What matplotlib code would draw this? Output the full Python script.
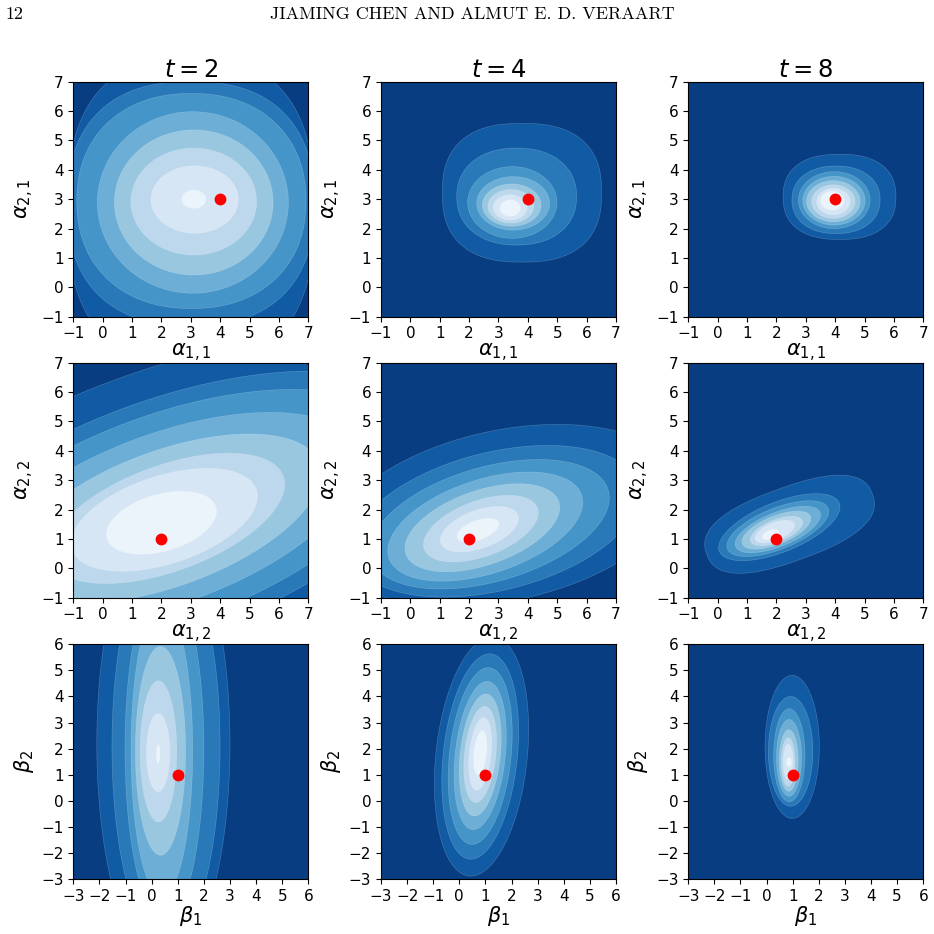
import numpy as np
import matplotlib
matplotlib.use("Agg")
import matplotlib.pyplot as plt
from matplotlib.patches import Polygon

# column titles and axis labels
col_titles = ["$t=2$", "$t=4$", "$t=8$"]
x_labels = [r"$\alpha_{1,1}$", r"$\alpha_{1,2}$", r"$\beta_1$"]
y_labels = [r"$\alpha_{2,1}$", r"$\alpha_{2,2}$", r"$\beta_2$"]
row_limits = [(-1, 7), (-1, 7), (-3, 6)]

# true parameter values (red dots), one per row
true_x = [4, 2, 1]
true_y = [3, 1, 1]

# contour bands: boundaries b0 (outer) .. b7 (inner)
# each as (cx, cy, a, b, p, angle) -- p is the super-ellipse exponent
rings_r1_t2 = [(3.0, 2.6, 4.2, 5.2, 2.6, 0), (3.0, 2.85, 4.2, 4.15, 2.4, 0),
               (3.02, 2.94, 3.9, 3.66, 2.2, 0), (3.07, 2.89, 3.25, 3.09, 2, 0),
               (3.1, 2.89, 2.7, 2.47, 2, 0), (3.1, 2.92, 2.14, 1.82, 2, 0),
               (3.13, 2.99, 1.49, 1.15, 2, 0), (3.1, 3.0, 0.41, 0.31, 2, 0)]
rings_r1_t4 = [(3.8, 3.22, 2.71, 2.36, 2.5, 0), (3.62, 3.09, 2.04, 1.65, 2.2, 0),
               (3.47, 2.89, 1.52, 1.22, 2, 0), (3.5, 2.86, 1.24, 0.91, 2, 0),
               (3.45, 2.8, 1.0, 0.72, 2, 0), (3.42, 2.76, 0.78, 0.57, 2, 0),
               (3.4, 2.72, 0.58, 0.43, 2, 0), (3.4, 2.7, 0.35, 0.28, 2, 0)]
rings_r1_t8 = [(4.15, 3.08, 1.92, 1.45, 2.4, 0), (4.03, 2.98, 1.5, 1.15, 2.2, 0),
               (3.97, 2.97, 1.22, 0.97, 2, 0), (3.96, 2.95, 1.06, 0.83, 2, 0),
               (3.94, 2.93, 0.91, 0.7, 2, 0), (3.94, 2.92, 0.74, 0.57, 2, 0),
               (3.94, 2.92, 0.57, 0.45, 2, 0), (3.9, 2.95, 0.4, 0.32, 2, 0)]
rings_r2_t2 = [(2.2, 1.7, 12.0, 5.04, 2, 20), (2.2, 1.7, 9.6, 4.03, 2, 20),
               (2.2, 1.7, 8.4, 3.53, 2, 20), (2.2, 1.7, 6.9, 2.9, 2, 20),
               (2.2, 1.7, 5.5, 2.31, 2, 20), (2.2, 1.7, 4.2, 1.8, 2, 20),
               (2.1, 1.65, 3.3, 1.5, 2, 18), (2.0, 1.55, 1.93, 0.97, 2, 16)]
rings_r2_t4 = [(3.2, 1.8, 6.0, 2.9, 2, 12), (2.9, 1.6, 5.0, 2.35, 2, 14),
               (2.7, 1.5, 4.2, 1.95, 2, 16), (2.55, 1.42, 3.45, 1.6, 2, 18),
               (2.45, 1.38, 2.75, 1.27, 2, 19), (2.4, 1.35, 2.05, 0.95, 2, 20),
               (2.35, 1.33, 1.4, 0.65, 2, 20), (2.3, 1.3, 0.75, 0.33, 2, 20)]
rings_r2_t8 = [(2.45, 1.5, 3.0, 1.25, 2.5, 20), (2.1, 1.4, 2.2, 0.85, 2, 22),
               (2.05, 1.35, 1.85, 0.7, 2, 22), (2.05, 1.32, 1.55, 0.58, 2, 22),
               (2.0, 1.3, 1.25, 0.48, 2, 22), (2.0, 1.27, 0.95, 0.38, 2, 22),
               (1.95, 1.25, 0.72, 0.3, 2, 22), (1.8, 1.15, 0.3, 0.15, 2, 22)]
rings_r3_t2 = [(0.45, 2.2, 2.55, 8.5, 2, 0), (0.55, 2.1, 2.07, 7.6, 2, 0),
               (0.49, 2.0, 1.51, 6.6, 2, 0), (0.39, 1.95, 1.18, 5.6, 2, 0),
               (0.34, 1.92, 0.96, 4.0, 2, 0), (0.26, 1.9, 0.7, 2.7, 2, 0),
               (0.25, 1.85, 0.45, 1.5, 2, 0), (0.25, 1.8, 0.07, 0.35, 2, 0)]
rings_r3_t4 = [(0.85, 1.7, 1.75, 4.6, 2, -6), (0.8, 1.7, 1.42, 3.95, 2, -6),
               (0.8, 1.72, 1.18, 3.4, 2, -6), (0.8, 1.74, 0.96, 2.85, 2, -6),
               (0.8, 1.76, 0.77, 2.35, 2, -6), (0.8, 1.78, 0.6, 1.85, 2, -6),
               (0.8, 1.8, 0.42, 1.4, 2, -6), (0.8, 1.85, 0.24, 0.85, 2, -6)]
rings_r3_t8 = [(0.98, 2.07, 1.04, 2.74, 2, 0), (0.92, 1.9, 0.85, 2.1, 2, 0),
               (0.87, 1.75, 0.6, 1.78, 2, 0), (0.86, 1.65, 0.48, 1.47, 2, 0),
               (0.85, 1.55, 0.36, 1.18, 2, 0), (0.83, 1.49, 0.26, 0.93, 2, 0),
               (0.83, 1.49, 0.19, 0.68, 2, 0), (0.86, 1.49, 0.09, 0.18, 2, 0)]

all_rings = [[rings_r1_t2, rings_r1_t4, rings_r1_t8],
             [rings_r2_t2, rings_r2_t4, rings_r2_t8],
             [rings_r3_t2, rings_r3_t4, rings_r3_t8]]

cmap = plt.get_cmap("Blues_r")
band_colors = [cmap((i + 0.5) / 9) for i in range(9)]


def ring_polygon(cx, cy, a, b, p, ang):
    t = np.linspace(0, 2 * np.pi, 400)
    c, s = np.cos(t), np.sin(t)
    u = a * np.sign(c) * np.abs(c) ** (2.0 / p)
    v = b * np.sign(s) * np.abs(s) ** (2.0 / p)
    th = np.deg2rad(ang)
    x = cx + u * np.cos(th) - v * np.sin(th)
    y = cy + u * np.sin(th) + v * np.cos(th)
    return np.column_stack([x, y])


fig = plt.figure(figsize=(9.34, 9.34), dpi=100)

col_left = [0.0785, 0.4079, 0.7369]
row_bottom = [0.6609, 0.3601, 0.0586]
size = 0.2516

for r in range(3):
    lo, hi = row_limits[r]
    for c in range(3):
        ax = fig.add_axes([col_left[c], row_bottom[r], size, size])
        ax.set_facecolor(band_colors[0])
        for k, ring in enumerate(all_rings[r][c]):
            pts = ring_polygon(*ring)
            ax.add_patch(Polygon(pts, closed=True, facecolor=band_colors[k + 1],
                                 edgecolor=(1, 1, 1, 0.25), linewidth=0.4))
        ax.plot(true_x[r], true_y[r], "o", color="red", ms=7.5, zorder=5)
        ax.set_xlim(lo, hi)
        ax.set_ylim(lo, hi)
        ax.set_xticks(range(lo, hi + 1))
        ax.set_yticks(range(lo, hi + 1))
        ax.tick_params(labelsize=11)
        ax.set_xlabel(x_labels[r], fontsize=15, labelpad=0)
        ax.set_ylabel(y_labels[r], fontsize=15)
        if r == 0:
            ax.set_title(col_titles[c], fontsize=17.5, pad=2)

fig.text(0.006, 0.985, "12", family="cmr10", fontsize=13, va="center")
fig.text(0.506, 0.985, "JIAMING CHEN AND ALMUT E. D. VERAART", family="cmr10",
         fontsize=13, ha="center", va="center")

fig.savefig("out.png", dpi=100)
